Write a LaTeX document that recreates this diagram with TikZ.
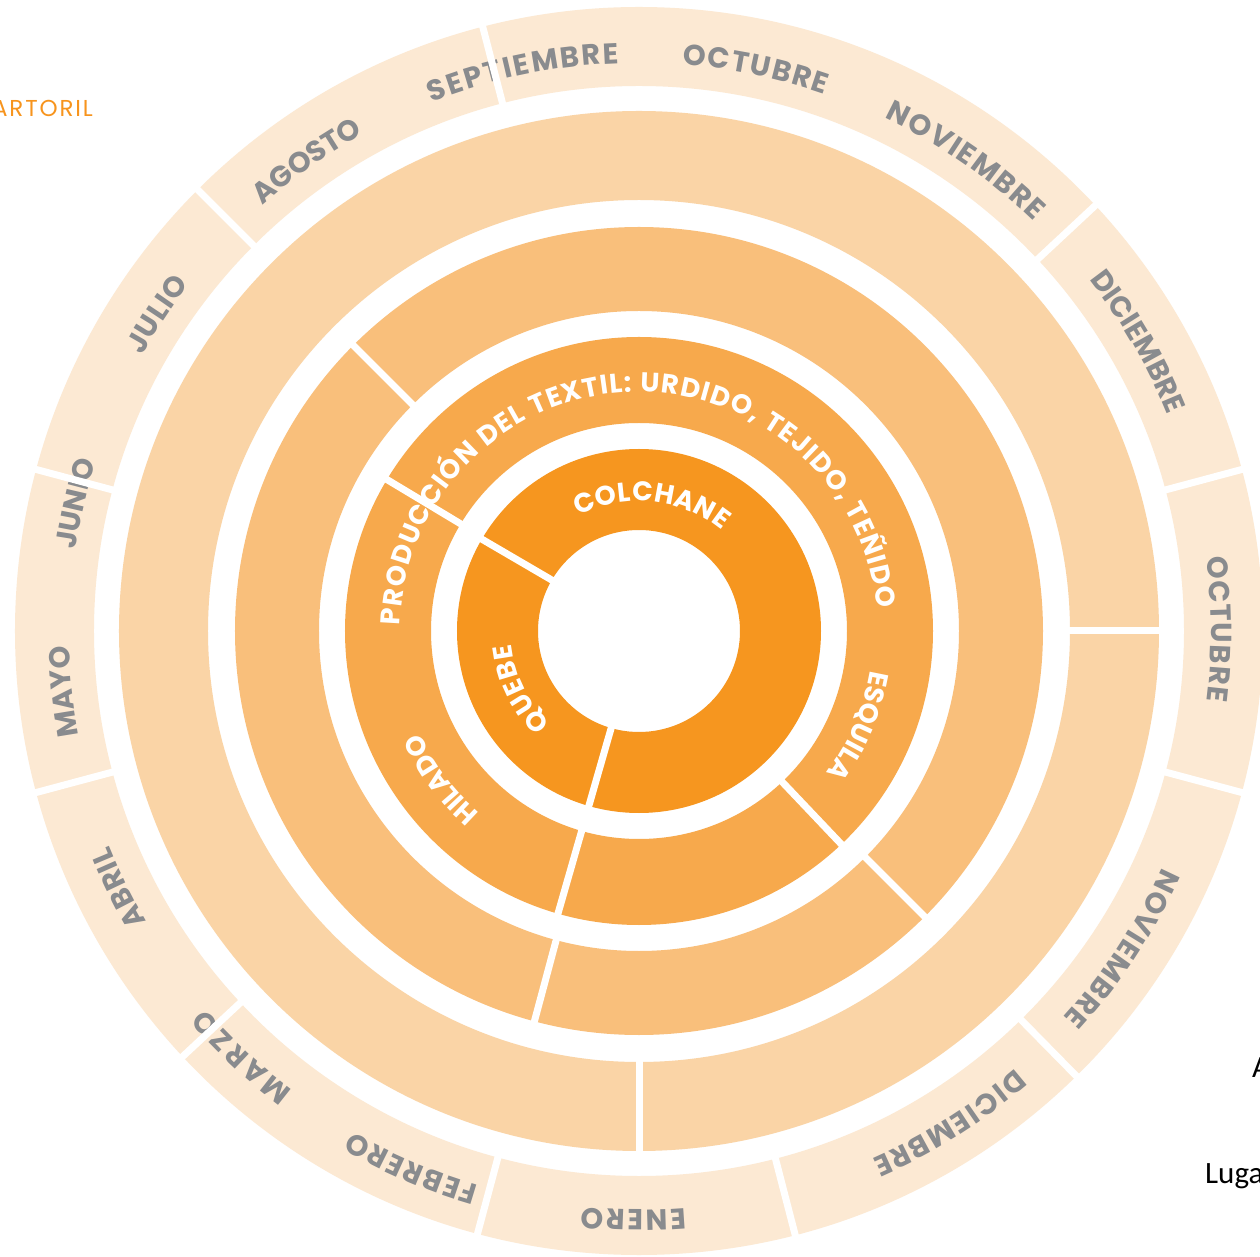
\documentclass[tikz,border=0pt]{standalone}
\usepackage{fontspec}
\usepackage{xcolor}
\setmainfont{Poppins}
\newfontfamily\titlefont[LetterSpace=8]{Poppins}
\newfontfamily\notefont{Carlito}
\usetikzlibrary{decorations.text}

\definecolor{ringA}{HTML}{F6961F}
\definecolor{ringB}{HTML}{F7A94C}
\definecolor{ringC}{HTML}{F9BF7B}
\definecolor{ringD}{HTML}{FAD4A6}
\definecolor{ringE}{HTML}{FCE9D3}
\definecolor{monthgray}{HTML}{898B8E}
\definecolor{titleorange}{HTML}{F7941D}

\newcommand\monthfmt{\fontsize{29}{31}\selectfont\bfseries\color{monthgray}}
\newcommand\ringfmt{\fontsize{27}{29}\selectfont\bfseries\color{white}}

\tikzset{
  monthlabel/.style={decorate, decoration={text along path,
      text align={fit to path}, text={|\monthfmt|#1}}},
  ringlabel/.style={decorate, decoration={text along path,
      text align={fit to path}, text={|\ringfmt|#1}}},
  divider/.style={draw=white, line width=7pt},
}

\begin{document}
\begin{tikzpicture}[x=1pt, y=1pt]
  \useasboundingbox (-639,-626) rectangle (621,631);
  \fill[white] (-639,-626) rectangle (621,631);

  % Rings, outside in
  \fill[ringE, even odd rule] (0,0) circle[radius=624] (0,0) circle[radius=545];
  \fill[ringD, even odd rule] (0,0) circle[radius=520] (0,0) circle[radius=431];
  \fill[ringC, even odd rule] (0,0) circle[radius=404] (0,0) circle[radius=320];
  \fill[ringB, even odd rule] (0,0) circle[radius=294] (0,0) circle[radius=208];
  \fill[ringA, even odd rule] (0,0) circle[radius=182] (0,0) circle[radius=101];

  % Months (outer ring)
  \path[monthlabel={SEPTIEMBRE}] (111.4:568) arc[start angle=111.4, end angle=92, radius=568];
  \path[monthlabel={OCTUBRE}] (85.6:568) arc[start angle=85.6, end angle=70.9, radius=568];
  \path[monthlabel={NOVIEMBRE}] (64.4:569) arc[start angle=64.4, end angle=46, radius=569];
  \path[monthlabel={DICIEMBRE}] (38:571) arc[start angle=38, end angle=22.2, radius=571];
  \path[monthlabel={OCTUBRE}] (7.4:572) arc[start angle=7.4, end angle=-7, radius=572];
  \path[monthlabel={NOVIEMBRE}] (-24.3:574) arc[start angle=-24.3, end angle=-42.3, radius=574];
  \path[monthlabel={DICIEMBRE}] (-49.3:577) arc[start angle=-49.3, end angle=-66.2, radius=577];
  \path[monthlabel={ENERO}] (-85.4:579) arc[start angle=-85.4, end angle=-95.7, radius=579];
  \path[monthlabel={FEBRERO}] (-106.1:577) arc[start angle=-106.1, end angle=-119.8, radius=577];
  \path[monthlabel={MARZO}] (-127:575) arc[start angle=-127, end angle=-139, radius=575];
  \path[monthlabel={ABRIL}] (-149.5:572) arc[start angle=-149.5, end angle=-157.9, radius=572];
  \path[monthlabel={MAYO}] (190.6:570) arc[start angle=190.6, end angle=182.4, radius=570];
  \path[monthlabel={JUNIO}] (171.8:569) arc[start angle=171.8, end angle=162.7, radius=569];
  \path[monthlabel={JULIO}] (151:568) arc[start angle=151, end angle=142.4, radius=568];
  \path[monthlabel={AGOSTO}] (131.5:568) arc[start angle=131.5, end angle=119.3, radius=568];

  % Inner labels
  \path[ringlabel={PRODUCCIÓN DEL TEXTIL: URDIDO, TEJIDO, TEÑIDO}]
     (178.6:239) arc[start angle=178.6, end angle=5.4, radius=239];
  \path[ringlabel={ESQUILA}] (-9.7:235) arc[start angle=-9.7, end angle=-36.9, radius=235];
  \path[ringlabel={HILADO}] (228.9:242) arc[start angle=228.9, end angle=205.3, radius=242];
  \path[ringlabel={COLCHANE}] (117.6:130) arc[start angle=117.6, end angle=50.5, radius=130];
  \path[ringlabel={QUEBE}] (226.4:128) arc[start angle=226.4, end angle=185.8, radius=128];

  % Dividers, outer ring
  \draw[divider] (15:538) -- (15:640);
  \draw[divider] (43:538) -- (43:640);
  \draw[divider] (104.5:538) -- (104.5:640);
  \draw[divider] (135:538) -- (135:640);
  \draw[divider] (165:538) -- (165:640);
  \draw[divider] (195:538) -- (195:640);
  \draw[divider] (223:538) -- (223:640);
  \draw[divider] (255:538) -- (255:640);
  \draw[divider] (284.5:538) -- (284.5:640);
  \draw[divider] (314.5:538) -- (314.5:640);
  \draw[divider] (345:538) -- (345:640);
  % Dividers, fourth ring
  \draw[divider] (0:424) -- (0:527);
  \draw[divider] (270:424) -- (270:527);
  % Dividers, third ring
  \draw[divider] (135:313) -- (135:411);
  \draw[divider] (255:313) -- (255:411);
  \draw[divider] (315:313) -- (315:411);
  % Dividers, second ring
  \draw[divider] (149:201) -- (149:301);
  \draw[divider] (254:201) -- (254:301);
  \draw[divider] (313.5:201) -- (313.5:301);
  % Dividers, inner ring
  \draw[divider] (149.7:95) -- (149.7:189);
  \draw[divider] (254:95) -- (254:189);

  % Cut-off texts at the edges
  \node[anchor=base east, inner sep=0, text=titleorange,
        font={\titlefont\fontsize{23}{27}\selectfont}] (sartoril) at (-546,514) {ARTORIL};
  \node[anchor=base west, inner sep=0,
        font={\notefont\fontsize{31}{36}\selectfont}] (anote) at (613,-446) {A};
  \node[anchor=base west, inner sep=0,
        font={\notefont\fontsize{31}{36}\selectfont}] (lugar) at (566,-552) {Luga};
\end{tikzpicture}
\end{document}
